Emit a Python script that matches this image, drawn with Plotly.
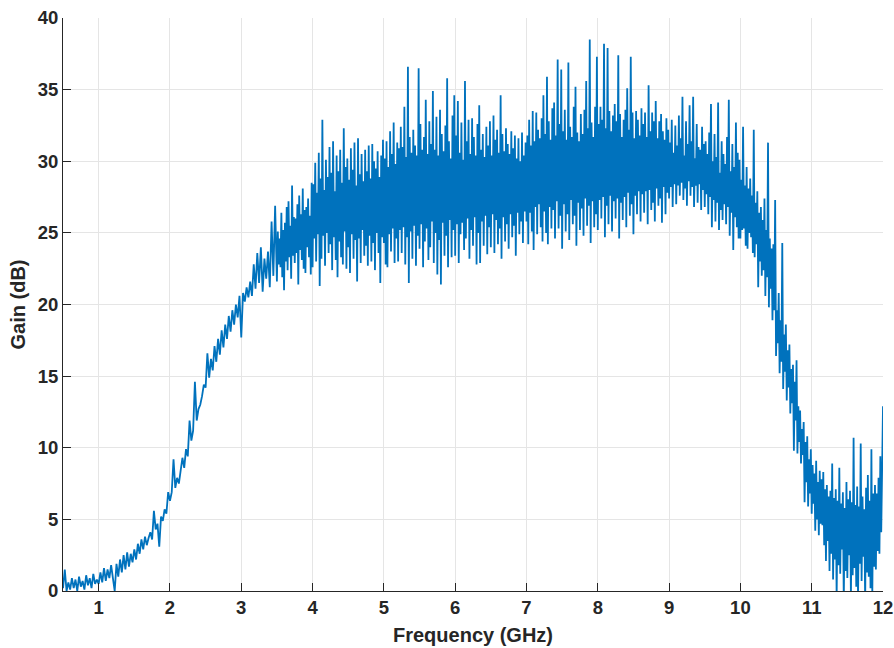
import numpy as np
import plotly.graph_objects as go

# Measured gain (dB). Sweep step is 0.025 GHz below 3.5 GHz and
# 0.0125 GHz from 3.5 GHz up to 12 GHz.
gain_05_1 = [0.2, 1.5, 0.0, 0.6, 0.1, 0.9, 0.2, 0.8, 0.0, 1.0,
             0.3, 0.7, 0.1, 1.1, 0.4, 0.9, 0.2, 1.2, 0.5, 0.8]
gain_1_2 = [0.5, 1.3, 0.6, 1.6, 0.7, 1.5, 0.9, 1.8, 0.9, 0.0,
            1.9, 1.0, 2.2, 1.3, 2.5, 1.5, 2.7, 1.7, 2.6, 2.0,
            2.9, 2.2, 3.3, 2.6, 3.6, 2.9, 3.8, 3.2, 3.7, 4.1,
            3.6, 5.6, 4.3, 4.7, 3.1, 5.2, 4.9, 5.7, 5.4, 6.9]
gain_2_3 = [6.3, 6.9, 9.2, 7.2, 7.9, 7.5, 8.4, 9.3, 8.6, 9.9,
            9.4, 11.9, 10.5, 11.2, 14.6, 11.9, 12.7, 13.0, 13.6, 14.4,
            14.2, 16.6, 14.9, 16.2, 15.4, 17.1, 16.0, 17.6, 16.5, 18.2,
            17.0, 18.6, 17.6, 19.2, 18.1, 19.6, 18.6, 20.0, 19.1, 20.6]
gain_3_35 = [17.7, 20.8, 20.2, 21.2, 20.5, 21.6, 20.6, 22.8, 21.1, 23.6,
             21.5, 24.0, 20.9, 23.2, 21.8, 23.7, 21.2, 25.8, 22.0, 26.9]

gain_35_4 = [21.6, 25.1, 22.8, 24.6, 22.6, 26.4, 21.9, 25.2, 21.0, 25.7,
             23.0, 26.8, 22.4, 27.2, 23.3, 25.5, 21.8, 28.3, 23.4, 26.1,
             22.9, 26.0, 23.6, 27.0, 21.4, 27.6, 23.8, 26.3, 23.1, 28.1,
             22.5, 26.6, 22.2, 26.8, 24.0, 27.4, 23.3, 26.2, 22.1, 28.5]
gain_4_5 = [22.6, 28.4, 24.6, 29.9, 23.0, 27.8, 24.9, 30.6, 21.3, 28.8,
            23.2, 32.9, 24.8, 28.0, 22.7, 30.1, 25.0, 28.9, 23.6, 31.0,
            24.2, 29.2, 22.4, 31.4, 24.7, 27.9, 23.1, 30.4, 21.9, 29.3,
            24.4, 30.8, 23.3, 28.5, 22.8, 32.3, 25.1, 29.6, 22.5, 30.2,
            24.0, 28.7, 22.2, 30.9, 24.9, 29.4, 23.2, 31.3, 24.5, 28.3,
            21.6, 31.6, 24.6, 29.1, 22.9, 30.5, 25.2, 28.6, 23.4, 30.8,
            24.1, 29.3, 22.7, 31.1, 24.8, 28.8, 23.0, 31.2, 24.3, 30.0,
            22.4, 29.5, 25.0, 30.7, 23.6, 28.9, 21.5, 30.4, 24.7, 31.5]
gain_5_6 = [24.3, 30.2, 22.8, 31.4, 22.6, 29.6, 24.9, 32.1, 23.7, 30.5,
            25.3, 32.7, 22.9, 29.8, 24.6, 31.3, 23.0, 30.9, 25.2, 32.4,
            23.6, 31.0, 25.4, 33.8, 22.8, 30.3, 24.7, 36.6, 21.5, 31.7,
            25.1, 30.6, 23.2, 32.2, 25.5, 31.1, 22.7, 30.4, 24.8, 36.5,
            23.9, 32.6, 25.6, 30.8, 22.6, 31.7, 24.4, 34.3, 25.3, 30.5,
            23.1, 32.8, 24.0, 31.2, 25.8, 34.9, 22.9, 30.8, 25.0, 33.1,
            22.1, 30.4, 24.5, 33.6, 21.4, 31.9, 25.7, 30.7, 23.4, 32.5,
            24.8, 35.8, 22.6, 31.4, 25.9, 30.2, 23.3, 33.2, 25.2, 34.6]
gain_6_7 = [23.4, 31.8, 25.6, 34.2, 22.9, 30.6, 24.9, 32.7, 25.7, 30.1,
            23.8, 35.6, 24.6, 31.4, 26.0, 32.9, 23.2, 30.5, 25.2, 33.0,
            24.1, 31.7, 26.1, 30.4, 22.8, 32.6, 25.0, 33.9, 22.9, 30.8,
            25.8, 31.9, 24.1, 30.3, 26.2, 32.4, 23.5, 31.1, 25.4, 32.8,
            24.0, 30.4, 26.3, 33.2, 23.6, 31.5, 25.9, 32.2, 24.2, 30.6,
            25.3, 34.6, 23.2, 31.9, 26.1, 30.7, 24.4, 32.3, 25.6, 31.2,
            23.9, 30.5, 26.3, 32.1, 24.7, 30.9, 25.5, 31.8, 23.4, 30.2,
            26.4, 31.6, 24.9, 30.0, 25.8, 32.0, 24.3, 30.4, 26.5, 31.3]
gain_7_8 = [25.8, 31.8, 24.2, 32.9, 26.4, 31.1, 25.1, 33.5, 23.8, 31.4,
            26.8, 33.4, 24.9, 32.2, 27.0, 31.6, 25.4, 33.0, 24.4, 34.6,
            26.5, 31.9, 25.0, 35.9, 24.2, 32.8, 26.8, 31.5, 25.3, 33.7,
            26.6, 34.1, 24.6, 31.8, 27.2, 37.1, 25.3, 32.6, 26.2, 36.4,
            23.9, 32.1, 27.0, 33.6, 25.1, 31.5, 26.3, 36.9, 24.5, 32.4,
            27.3, 31.7, 25.6, 33.8, 26.2, 35.2, 24.1, 32.0, 27.1, 31.4,
            25.2, 33.3, 26.7, 31.9, 24.8, 33.6, 27.4, 35.6, 25.5, 32.3,
            26.9, 38.5, 24.3, 32.7, 27.2, 31.7, 25.4, 33.8, 26.3, 37.3]
gain_8_9 = [25.2, 32.6, 27.3, 33.8, 26.0, 32.9, 27.5, 38.2, 24.7, 32.3,
            26.9, 37.9, 25.6, 33.5, 27.6, 32.1, 25.1, 33.2, 27.2, 34.0,
            26.0, 32.8, 27.4, 37.4, 24.6, 33.3, 27.1, 31.7, 25.9, 32.9,
            27.5, 33.6, 25.4, 35.1, 27.8, 32.2, 26.2, 37.3, 27.0, 33.4,
            24.9, 31.6, 27.6, 33.5, 26.3, 32.9, 27.9, 31.8, 25.8, 33.7,
            27.7, 32.6, 26.4, 33.4, 27.9, 31.7, 25.6, 35.3, 28.0, 32.1,
            26.6, 33.4, 27.1, 32.8, 25.8, 34.2, 28.1, 31.6, 26.9, 32.8,
            27.4, 33.3, 25.7, 32.1, 28.2, 31.5, 26.3, 33.0, 27.8, 32.2]
gain_9_10 = [27.4, 31.3, 28.2, 32.9, 26.8, 30.6, 28.4, 32.5, 27.0, 31.1,
             28.3, 33.2, 27.6, 31.6, 28.5, 34.5, 27.3, 30.4, 28.1, 32.8,
             26.9, 31.2, 28.6, 33.9, 27.6, 31.4, 28.2, 34.5, 26.8, 30.2,
             28.3, 32.6, 27.1, 31.0, 28.4, 30.8, 26.6, 32.4, 28.0, 31.2,
             26.8, 31.4, 27.7, 30.5, 26.3, 32.0, 27.5, 34.0, 25.4, 30.0,
             27.3, 31.9, 25.8, 30.3, 27.1, 34.1, 25.2, 29.2, 26.6, 31.4,
             25.9, 30.5, 27.0, 29.8, 25.6, 31.7, 26.8, 34.3, 24.8, 29.3,
             26.4, 31.2, 23.8, 29.6, 26.1, 32.7, 25.4, 30.6, 24.6, 30.1]
gain_10_105 = [24.6, 28.7, 25.2, 32.4, 25.3, 28.3, 24.1, 29.6, 23.9, 28.1,
               25.0, 28.8, 24.7, 27.6, 23.6, 32.2, 23.3, 27.1, 24.2, 27.9,
               21.2, 26.4, 23.0, 26.8, 22.0, 25.9, 22.4, 27.4, 20.6, 25.2,
               21.9, 31.3, 19.8, 24.6, 21.1, 23.9, 18.9, 24.2, 19.6, 27.3]
gain_105_11 = [16.4, 19.6, 17.3, 20.8, 15.2, 18.9, 16.0, 24.3, 14.1, 17.9,
               15.3, 18.6, 13.3, 16.8, 14.2, 17.2, 12.4, 15.5, 13.1, 15.8,
               9.8, 14.6, 11.9, 16.1, 9.6, 12.9, 10.4, 12.6, 8.9, 11.3,
               9.5, 11.8, 6.2, 10.4, 7.6, 10.8, 5.9, 9.2, 6.8, 9.9]
gain_11_12 = [5.4, 8.8, 6.1, 8.2, 4.2, 9.1, 5.0, 7.6, 3.9, 8.4,
              4.7, 7.8, 4.6, 8.3, 3.2, 7.1, 2.1, 7.4, 3.5, 6.6,
              1.4, 7.0, 2.6, 8.9, 0.8, 6.5, 2.2, 7.1, -0.5, 6.3,
              1.8, 8.6, 1.2, 6.1, 2.9, 6.9, -0.8, 5.8, 1.4, 7.6,
              0.9, 6.4, 2.5, 7.0, -0.4, 6.2, 1.1, 10.7, 1.6, 6.0,
              0.3, 7.3, -0.6, 5.9, 1.9, 10.3, 0.7, 6.6, 2.4, 5.7,
              -0.9, 7.2, 1.3, 8.1, 1.0, 6.3, 0.2, 9.9, -0.3, 6.8,
              1.7, 7.4, 1.5, 6.8, 2.8, 7.9, 2.6, 9.4, 4.1, 8.4,
              12.9]

# (start frequency in GHz, step in GHz, readings)
segments = [
    (0.5, 0.025, gain_05_1 + gain_1_2 + gain_2_3 + gain_3_35),
    (3.5, 0.0125, gain_35_4 + gain_4_5 + gain_5_6 + gain_6_7 + gain_7_8
     + gain_8_9 + gain_9_10 + gain_10_105 + gain_105_11 + gain_11_12),
]
freq = np.concatenate([np.round(f0 + df * np.arange(len(g)), 5) for f0, df, g in segments])
gain = np.concatenate([np.asarray(g, dtype=float) for _, _, g in segments])

x_ticks = list(range(1, 13))
y_ticks = list(range(0, 45, 5))

text_color = "#262626"
family = "Liberation Sans, Arial, sans-serif"
tick_font = dict(family=family, size=18.5, color=text_color, weight="bold")
title_font = dict(family=family, size=20, color=text_color, weight="bold")

fig = go.Figure(go.Scatter(x=freq, y=gain, mode="lines",
                           line=dict(color="#0072BD", width=1.8),
                           hoverinfo="skip"))

axis_common = dict(showgrid=True, gridcolor="#e5e5e5", gridwidth=1,
                   showline=True, linecolor=text_color, linewidth=1,
                   ticks="inside", ticklen=8, tickwidth=1, tickcolor=text_color,
                   zeroline=False, mirror=False, tickfont=tick_font,
                   automargin=False)

fig.update_xaxes(range=[0.5, 12], tickvals=x_ticks,
                 title=dict(text="Frequency (GHz)", font=title_font, standoff=10),
                 **axis_common)
fig.update_yaxes(range=[0, 40], tickvals=y_ticks,
                 title=dict(text="Gain (dB)", font=title_font, standoff=6),
                 **axis_common)

fig.update_layout(width=894, height=648,
                  margin=dict(l=63, r=11, t=18, b=57, autoexpand=False),
                  paper_bgcolor="white", plot_bgcolor="white",
                  showlegend=False, font=tick_font)

fig.write_html("out.html")
